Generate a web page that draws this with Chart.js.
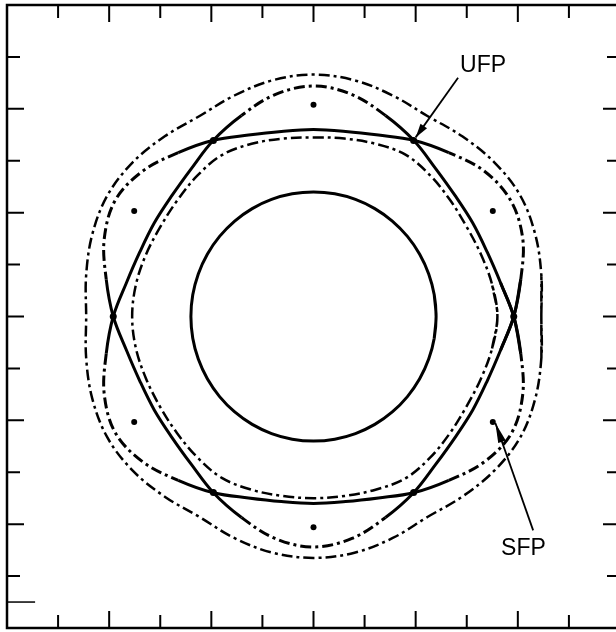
<!DOCTYPE html>
<html>
<head>
<meta charset="utf-8">
<script src="https://cdn.jsdelivr.net/npm/chart.js@4"></script>
<style>
html, body { margin: 0; padding: 0; overflow: hidden; background: #fff; }
canvas { display: block; }
</style>
</head>
<body>
<canvas id="chart" width="626" height="632"></canvas>
<script>
// radii every 10 degrees (data units = one tick step)
var angles = [0, 10, 20, 30, 40, 50, 60, 70, 80, 90, 100, 110,
  120, 130, 140, 150, 160, 170, 180, 190, 200, 210, 220, 230,
  240, 250, 260, 270, 280, 290, 300, 310, 320, 330, 340, 350];

var circleR = [2.40, 2.40, 2.40, 2.40, 2.40, 2.40, 2.40, 2.40, 2.40, 2.40, 2.40, 2.40,
  2.40, 2.40, 2.40, 2.40, 2.40, 2.40, 2.40, 2.40, 2.40, 2.40, 2.40, 2.40,
  2.40, 2.40, 2.40, 2.40, 2.40, 2.40, 2.40, 2.40, 2.40, 2.40, 2.40, 2.40];

// separatrix, branch bulging at 30/150/270 deg
var sepA = [3.92, 4.12, 4.36, 4.46, 4.36, 4.12, 3.92, 3.72, 3.62, 3.60, 3.62, 3.72,
  3.92, 4.12, 4.36, 4.48, 4.36, 4.12, 3.92, 3.72, 3.62, 3.60, 3.62, 3.72,
  3.92, 4.12, 4.34, 4.44, 4.34, 4.12, 3.92, 3.72, 3.62, 3.60, 3.62, 3.72];

// separatrix, branch bulging at 90/210/330 deg
var sepB = [3.92, 3.72, 3.62, 3.60, 3.62, 3.72, 3.92, 4.12, 4.34, 4.44, 4.34, 4.12,
  3.92, 3.72, 3.62, 3.60, 3.62, 3.72, 3.92, 4.12, 4.36, 4.48, 4.36, 4.12,
  3.92, 3.72, 3.62, 3.60, 3.62, 3.72, 3.92, 4.12, 4.36, 4.48, 4.36, 4.12];

// dash-dot curve just inside the separatrix
var innerTorus = [3.60, 3.55, 3.49, 3.46, 3.49, 3.55, 3.60, 3.54, 3.48, 3.45, 3.48, 3.54,
  3.59, 3.54, 3.48, 3.46, 3.49, 3.53, 3.55, 3.53, 3.49, 3.47, 3.49, 3.54,
  3.59, 3.55, 3.51, 3.50, 3.51, 3.55, 3.60, 3.55, 3.49, 3.46, 3.49, 3.55];

// dash-dot curve outside the separatrix
var outerTorus = [4.46, 4.53, 4.62, 4.67, 4.62, 4.53, 4.46, 4.53, 4.62, 4.66, 4.62, 4.53,
  4.46, 4.53, 4.62, 4.66, 4.61, 4.52, 4.45, 4.52, 4.61, 4.66, 4.62, 4.53,
  4.46, 4.54, 4.62, 4.65, 4.62, 4.54, 4.46, 4.53, 4.62, 4.67, 4.62, 4.53];

// fixed points
var sfpX = [0, 3.51, 3.51, 0, -3.51, -3.51];
var sfpY = [4.08, 2.03, -2.03, -4.06, -2.03, 2.03];
var ufpX = [3.92, 1.96, -1.96, -3.92, -1.96, 1.96];
var ufpY = [0, 3.39, 3.39, 0, -3.39, -3.39];

var tickValues = [-5, -4, -3, -2, -1, 0, 1, 2, 3, 4, 5];

var dashDot = [11, 4, 3, 4];

function closedCurve(radii) {
  var pts = [];
  var n = angles.length;
  // run one step past each end so the spline closes smoothly
  for (var i = -1; i <= n + 1; i++) {
    var k = (i + n) % n;
    var a = angles[k] * Math.PI / 180;
    pts.push({ x: radii[k] * Math.cos(a), y: radii[k] * Math.sin(a) });
  }
  return pts;
}

function pointList(xs, ys) {
  return xs.map(function (x, i) { return { x: x, y: ys[i] }; });
}

function curve(radii, dash, width) {
  return {
    data: closedCurve(radii),
    showLine: true,
    borderColor: '#000',
    borderWidth: width,
    borderDash: dash,
    pointRadius: 0,
    tension: 0.35,
    fill: false
  };
}

// outer lobes of the separatrix are printed broken in the middle
function separatrix(radii) {
  var ds = curve(radii, [], 3);
  ds.segment = {
    borderDash: function (ctx) {
      var r0 = Math.hypot(ctx.p0.parsed.x, ctx.p0.parsed.y);
      var r1 = Math.hypot(ctx.p1.parsed.x, ctx.p1.parsed.y);
      return r0 > 4.0 && r1 > 4.0 ? dashDot : undefined;
    }
  };
  return ds;
}

var frameAndNotes = {
  id: 'frameAndNotes',
  afterDatasetsDraw: function (chart, args, opts) {
    var ctx = chart.ctx;
    var area = chart.chartArea;
    var xs = chart.scales.x;
    var ys = chart.scales.y;
    ctx.save();
    ctx.strokeStyle = '#000';
    ctx.fillStyle = '#000';
    ctx.lineWidth = 2.5;
    ctx.strokeRect(area.left, area.top, area.right - area.left, area.bottom - area.top);

    ctx.lineWidth = 2;
    tickValues.forEach(function (v) {
      var len = v % 2 === 0 ? 17 : 13;
      var px = xs.getPixelForValue(v);
      var py = ys.getPixelForValue(v);
      ctx.beginPath();
      ctx.moveTo(px, area.top); ctx.lineTo(px, area.top + len);
      ctx.moveTo(px, area.bottom); ctx.lineTo(px, area.bottom - len);
      ctx.moveTo(area.left, py); ctx.lineTo(area.left + len, py);
      ctx.moveTo(area.right, py); ctx.lineTo(area.right - len, py);
      ctx.stroke();
    });

    // stray mark near the lower left corner
    ctx.lineWidth = 1.5;
    ctx.beginPath();
    ctx.moveTo(area.left, ys.getPixelForValue(opts.stray[1]));
    ctx.lineTo(xs.getPixelForValue(opts.stray[0]), ys.getPixelForValue(opts.stray[1]));
    ctx.stroke();

    ctx.font = '23px "Liberation Sans", Arial, sans-serif';
    ctx.textAlign = 'center';
    ctx.textBaseline = 'middle';
    opts.notes.forEach(function (n) {
      ctx.fillText(n.text, xs.getPixelForValue(n.at[0]), ys.getPixelForValue(n.at[1]));
      var x0 = xs.getPixelForValue(n.from[0]);
      var y0 = ys.getPixelForValue(n.from[1]);
      var x1 = xs.getPixelForValue(n.to[0]);
      var y1 = ys.getPixelForValue(n.to[1]);
      ctx.lineWidth = 1.8;
      ctx.beginPath();
      ctx.moveTo(x0, y0);
      ctx.lineTo(x1, y1);
      ctx.stroke();
      var ang = Math.atan2(y1 - y0, x1 - x0);
      var L = n.head, W = 4;
      ctx.beginPath();
      ctx.moveTo(x1, y1);
      ctx.lineTo(x1 - L * Math.cos(ang) + W * Math.sin(ang), y1 - L * Math.sin(ang) - W * Math.cos(ang));
      ctx.lineTo(x1 - L * Math.cos(ang) - W * Math.sin(ang), y1 - L * Math.sin(ang) + W * Math.cos(ang));
      ctx.closePath();
      ctx.fill();
    });
    ctx.restore();
  }
};

new Chart(document.getElementById('chart'), {
  type: 'scatter',
  data: {
    datasets: [
      curve(circleR, [], 3),
      separatrix(sepA),
      separatrix(sepB),
      curve(innerTorus, dashDot, 2.5),
      curve(outerTorus, dashDot, 2.5),
      {
        data: pointList(sfpX, sfpY),
        pointRadius: 3,
        pointBackgroundColor: '#000',
        pointBorderWidth: 0
      },
      {
        data: pointList(ufpX, ufpY),
        pointRadius: 3.5,
        pointBackgroundColor: '#000',
        pointBorderWidth: 0
      }
    ]
  },
  options: {
    responsive: false,
    animation: false,
    layout: { padding: { left: 7, top: 5, right: 6, bottom: 1 } },
    plugins: {
      legend: { display: false },
      tooltip: { enabled: false },
      frameAndNotes: {
        stray: [-5.45, -5.5],
        notes: [
          { text: 'UFP', at: [3.32, 4.83], from: [2.83, 4.60], to: [2.00, 3.45], head: 14 },
          { text: 'SFP', at: [4.11, -4.48], from: [4.30, -4.12], to: [3.56, -2.05], head: 20 }
        ]
      }
    },
    scales: {
      x: { type: 'linear', min: -6, max: 6, display: false },
      y: { type: 'linear', min: -6, max: 6, display: false }
    }
  },
  plugins: [frameAndNotes]
});
</script>
</body>
</html>
